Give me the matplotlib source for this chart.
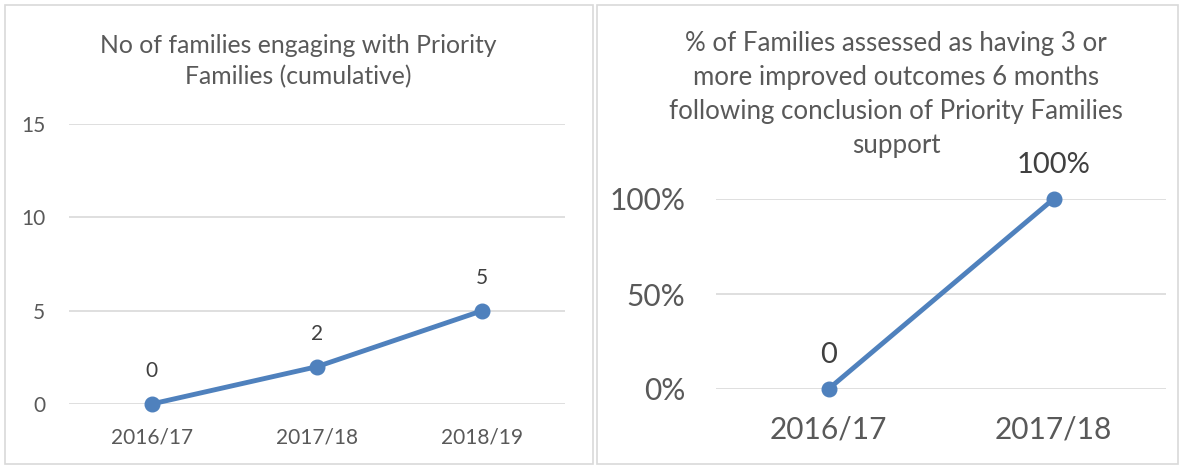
import matplotlib.pyplot as plt
from matplotlib.patches import Rectangle
from matplotlib.ticker import FuncFormatter

# data
years_left = ['2016/17', '2017/18', '2018/19']
families = [0, 2, 5]
years_right = ['2016/17', '2017/18']
improved = [0.0, 1.0]
improved_labels = ['0', '100%']

W, H = 1182, 466
plt.rcParams['font.family'] = ['Lato', 'DejaVu Sans']
blue = '#4f81bd'
grey = '#595959'
grid = '#d9d9d9'

fig = plt.figure(figsize=(W / 100, H / 100), dpi=100)

def px_axes(x0, y_top, x1, y_bot):
    return fig.add_axes([x0 / W, 1 - y_bot / H, (x1 - x0) / W, (y_bot - y_top) / H])

# panel borders
for x0, x1 in [(5, 593), (597, 1178)]:
    fig.patches.append(Rectangle((x0 / W, 2 / H), (x1 - x0) / W, (H - 7) / H,
                                 transform=fig.transFigure, fill=False,
                                 edgecolor=grid, linewidth=1.2))

def style(ax, fs, ypad, xpad):
    for s in ax.spines.values():
        s.set_visible(False)
    ax.grid(axis='y', color=grid, linewidth=1.2)
    ax.set_axisbelow(True)
    ax.tick_params(length=0, colors=grey, labelsize=fs)
    ax.tick_params(axis='y', pad=ypad)
    ax.tick_params(axis='x', pad=xpad)

# left chart
ax1 = px_axes(69, 124, 565, 404)
ax1.plot(range(len(years_left)), families, color=blue, linewidth=3.5,
         marker='o', markersize=10.5, clip_on=False)
ax1.set_xlim(-0.5, 2.5)
ax1.set_ylim(0, 15)
ax1.set_yticks([0, 5, 10, 15])
ax1.set_xticks(range(len(years_left)))
ax1.set_xticklabels(years_left)
style(ax1, 15, 17, 17)
for i, v in enumerate(families):
    ax1.annotate(str(v), (i, v), xytext=(0, 33), textcoords='offset pixels',
                 ha='center', va='center', fontsize=15, color='#404040')
fig.text(298 / W, 1 - 61 / H, 'No of families engaging with Priority\nFamilies (cumulative)',
         ha='center', va='center', fontsize=17.8, color=grey, linespacing=1.4)

# right chart
ax2 = px_axes(716, 199, 1166, 389)
ax2.plot(range(len(years_right)), improved, color=blue, linewidth=3.5,
         marker='o', markersize=10.5, clip_on=False)
ax2.set_xlim(-0.5, 1.5)
ax2.set_ylim(0, 1)
ax2.set_yticks([0, 0.5, 1])
ax2.yaxis.set_major_formatter(FuncFormatter(lambda v, p: f'{v:.0%}'))
ax2.set_xticks(range(len(years_right)))
ax2.set_xticklabels(years_right)
style(ax2, 21.5, 22, 19)
for i, v in enumerate(improved):
    ax2.annotate(improved_labels[i], (i, v), xytext=(0, 34), textcoords='offset pixels',
                 ha='center', va='center', fontsize=21, color='#404040')
fig.text(896 / W, 1 - 94 / H,
         '% of Families assessed as having 3 or\nmore improved outcomes 6 months\n'
         'following conclusion of Priority Families\nsupport',
         ha='center', va='center', fontsize=18.6, color=grey, linespacing=1.45)

fig.savefig('out.png', dpi=100)
